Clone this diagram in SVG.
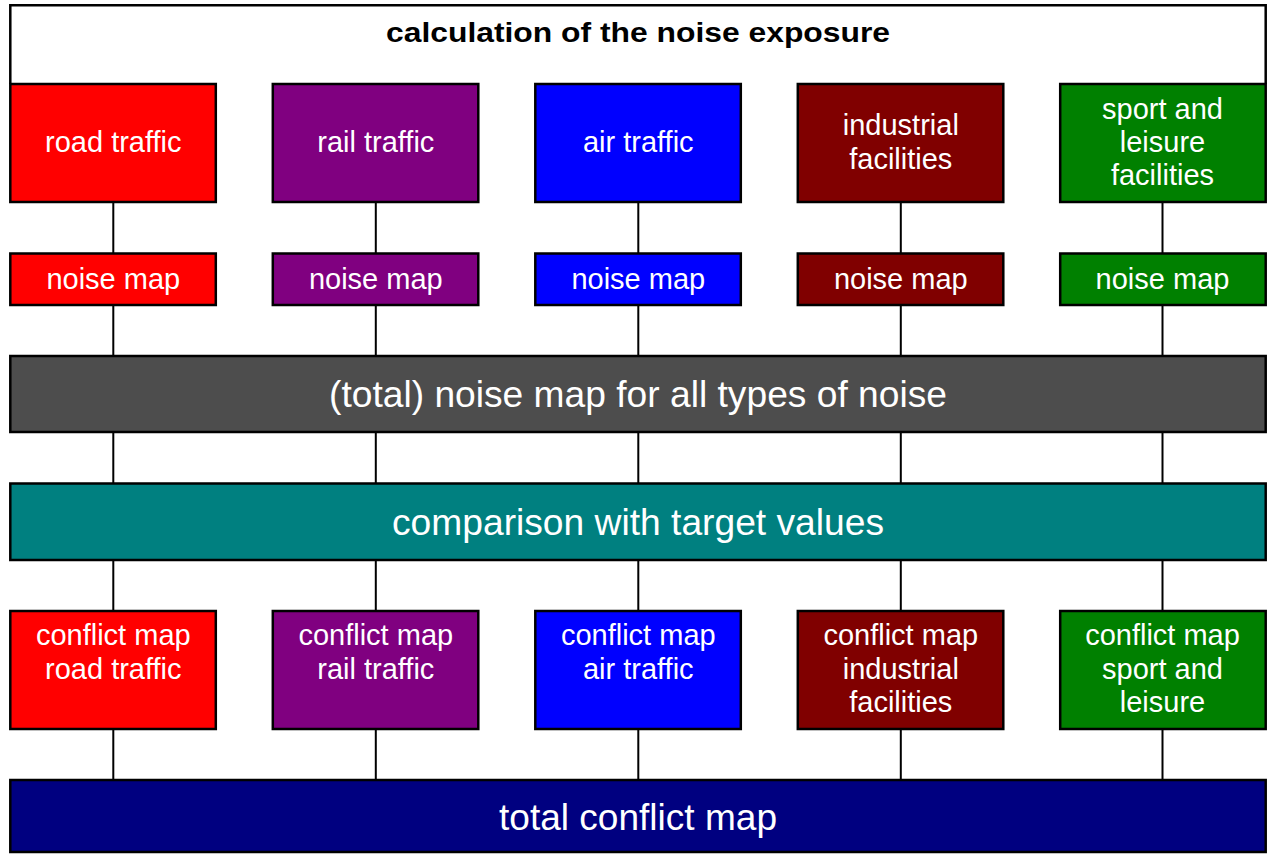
<svg xmlns="http://www.w3.org/2000/svg" width="1267" height="854" viewBox="0 0 1267 854">
<style>
.box{stroke:#000;stroke-width:2.5}
.lbl{font-family:"Liberation Sans",Arial,sans-serif;fill:#fff;text-anchor:middle}
.s{font-size:29px}
.b{font-size:37px}
.title{font-family:"Liberation Sans",Arial,sans-serif;font-weight:bold;font-size:28px;fill:#000;text-anchor:middle}
.con{stroke:#000;stroke-width:2;fill:none}
.red{fill:#FF0000}.pur{fill:#800080}.blu{fill:#0000FF}.drd{fill:#800000}.grn{fill:#008000}
</style>
<rect width="1267" height="854" fill="#fff"/>
<g id="connectors" class="con">
<path d="M113.3 202V253M375.8 202V253M638.3 202V253M900.8 202V253M1162.5 202V253"/>
<path d="M113.3 305V356M375.8 305V356M638.3 305V356M900.8 305V356M1162.5 305V356"/>
<path d="M113.3 432V483M375.8 432V483M638.3 432V483M900.8 432V483M1162.5 432V483"/>
<path d="M113.3 560V611M375.8 560V611M638.3 560V611M900.8 560V611M1162.5 560V611"/>
<path d="M113.3 729V780M375.8 729V780M638.3 729V780M900.8 729V780M1162.5 729V780"/>
</g>
<g id="header">
<path d="M10.3 84V5.3H1265.7V84" fill="none" stroke="#000" stroke-width="2.5"/>
<text class="title" x="638" y="41.5" textLength="504" lengthAdjust="spacingAndGlyphs">calculation of the noise exposure</text>
</g>
<g id="src-road"><rect class="box red" x="10.3" y="84" width="205.5" height="118"/><text class="lbl s" x="113.3" y="151.5">road traffic</text></g>
<g id="src-rail"><rect class="box pur" x="272.8" y="84" width="205.5" height="118"/><text class="lbl s" x="375.8" y="151.5">rail traffic</text></g>
<g id="src-air"><rect class="box blu" x="535.3" y="84" width="205.5" height="118"/><text class="lbl s" x="638.3" y="151.5">air traffic</text></g>
<g id="src-ind"><rect class="box drd" x="797.8" y="84" width="205.5" height="118"/><text class="lbl s" x="900.8" y="135">industrial</text><text class="lbl s" x="900.8" y="169">facilities</text></g>
<g id="src-sport"><rect class="box grn" x="1060.2" y="84" width="205.5" height="118"/><text class="lbl s" x="1162.5" y="119">sport and</text><text class="lbl s" x="1162.5" y="152">leisure</text><text class="lbl s" x="1162.5" y="185">facilities</text></g>
<g id="nm-road"><rect class="box red" x="10.3" y="253.5" width="205.5" height="51.5"/><text class="lbl s" x="113.3" y="288.5">noise map</text></g>
<g id="nm-rail"><rect class="box pur" x="272.8" y="253.5" width="205.5" height="51.5"/><text class="lbl s" x="375.8" y="288.5">noise map</text></g>
<g id="nm-air"><rect class="box blu" x="535.3" y="253.5" width="205.5" height="51.5"/><text class="lbl s" x="638.3" y="288.5">noise map</text></g>
<g id="nm-ind"><rect class="box drd" x="797.8" y="253.5" width="205.5" height="51.5"/><text class="lbl s" x="900.8" y="288.5">noise map</text></g>
<g id="nm-sport"><rect class="box grn" x="1060.2" y="253.5" width="205.5" height="51.5"/><text class="lbl s" x="1162.5" y="288.5">noise map</text></g>
<g id="total-noise"><rect class="box" fill="#4D4D4D" x="10.3" y="356" width="1255.4" height="76"/><text class="lbl b" x="638" y="407" textLength="618" lengthAdjust="spacingAndGlyphs">(total) noise map for all types of noise</text></g>
<g id="comparison"><rect class="box" fill="#008080" x="10.3" y="483.5" width="1255.4" height="76.5"/><text class="lbl b" x="638" y="535" textLength="492" lengthAdjust="spacingAndGlyphs">comparison with target values</text></g>
<g id="cm-road"><rect class="box red" x="10.3" y="611" width="205.5" height="118"/><text class="lbl s" x="113.3" y="645">conflict map</text><text class="lbl s" x="113.3" y="679">road traffic</text></g>
<g id="cm-rail"><rect class="box pur" x="272.8" y="611" width="205.5" height="118"/><text class="lbl s" x="375.8" y="645">conflict map</text><text class="lbl s" x="375.8" y="679">rail traffic</text></g>
<g id="cm-air"><rect class="box blu" x="535.3" y="611" width="205.5" height="118"/><text class="lbl s" x="638.3" y="645">conflict map</text><text class="lbl s" x="638.3" y="679">air traffic</text></g>
<g id="cm-ind"><rect class="box drd" x="797.8" y="611" width="205.5" height="118"/><text class="lbl s" x="900.8" y="645">conflict map</text><text class="lbl s" x="900.8" y="678.5">industrial</text><text class="lbl s" x="900.8" y="712">facilities</text></g>
<g id="cm-sport"><rect class="box grn" x="1060.2" y="611" width="205.5" height="118"/><text class="lbl s" x="1162.5" y="645">conflict map</text><text class="lbl s" x="1162.5" y="678.5">sport and</text><text class="lbl s" x="1162.5" y="712">leisure</text></g>
<g id="total-conflict"><rect class="box" fill="#000080" x="10.3" y="780" width="1255.4" height="72"/><text class="lbl b" x="638" y="829.5" textLength="278" lengthAdjust="spacingAndGlyphs">total conflict map</text></g>
</svg>
